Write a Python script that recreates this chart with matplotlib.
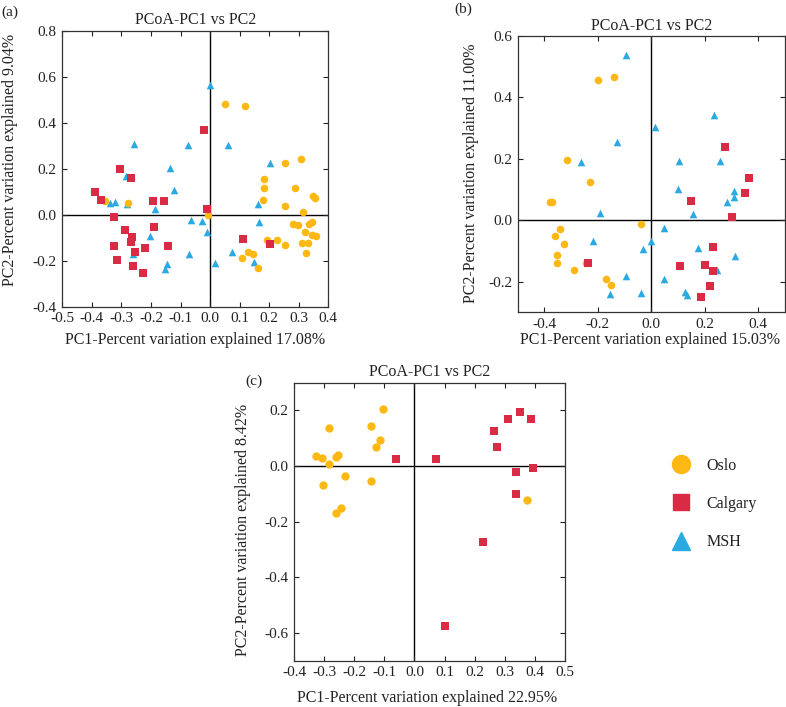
import matplotlib
matplotlib.use("Agg")
import matplotlib.pyplot as plt
from matplotlib.lines import Line2D

plt.rcParams['font.family'] = ['Liberation Serif', 'DejaVu Serif']

# colours
oslo_c = '#FDB813'
calg_c = '#D92B43'
msh_c = '#2BAAE2'

####### panel (a) #######
a_oslo_x = [0.051, 0.119, 0.254, 0.306, 0.183, 0.181, 0.179, 0.287, 0.254, 0.347, 0.356,
            0.315, 0.282, 0.299, 0.334, 0.344, 0.322, 0.345, 0.358, 0.193, 0.226, 0.253,
            0.311, 0.330, 0.325, 0.128, 0.145, 0.109, 0.163, -0.007, -0.279, -0.357]
a_oslo_y = [0.483, 0.474, 0.223, 0.243, 0.154, 0.117, 0.065, 0.116, 0.039, 0.083, 0.074,
            0.010, -0.041, -0.043, -0.041, -0.033, -0.077, -0.087, -0.093, -0.112, -0.110, -0.130,
            -0.125, -0.125, -0.167, -0.164, -0.171, -0.188, -0.230, 0.000, 0.049, 0.059]
a_calg_x = [-0.020, -0.304, -0.266, -0.391, -0.370, -0.193, -0.156, -0.012, -0.324, -0.287, -0.264,
            -0.267, -0.191, -0.324, -0.255, -0.219, -0.143, -0.315, -0.260, -0.226, 0.113, 0.201]
a_calg_y = [0.367, 0.197, 0.161, 0.100, 0.064, 0.058, 0.058, 0.023, -0.009, -0.065, -0.096,
            -0.119, -0.055, -0.135, -0.164, -0.143, -0.136, -0.197, -0.225, -0.255, -0.106, -0.129]
a_msh_x = [0.000, -0.256, -0.074, 0.060, -0.134, -0.284, -0.121, -0.322, -0.340, -0.282, -0.188,
           0.204, 0.163, 0.167, -0.065, -0.026, -0.012, -0.203, -0.327, -0.260, -0.073, 0.075,
           -0.147, -0.154, 0.015, 0.147]
a_msh_y = [0.565, 0.309, 0.301, 0.304, 0.203, 0.170, 0.107, 0.055, 0.049, 0.045, 0.026,
           0.225, 0.046, -0.032, -0.023, -0.029, -0.074, -0.094, -0.130, -0.172, -0.171, -0.164,
           -0.214, -0.236, -0.212, -0.204]

####### panel (b) #######
b_oslo_x = [-0.200, -0.139, -0.314, -0.229, -0.378, -0.370, -0.341, -0.359, -0.328, -0.351,
            -0.351, -0.291, -0.246, -0.171, -0.151, -0.039]
b_oslo_y = [0.458, 0.467, 0.197, 0.125, 0.060, 0.058, -0.029, -0.050, -0.078, -0.112,
            -0.138, -0.161, -0.139, -0.191, -0.211, -0.013]
b_calg_x = [0.276, 0.364, 0.349, 0.149, 0.301, 0.229, -0.236, 0.106, 0.199, 0.231, 0.220, 0.186]
b_calg_y = [0.238, 0.138, 0.090, 0.064, 0.010, -0.088, -0.139, -0.150, -0.146, -0.164, -0.214, -0.249]
b_msh_x = [-0.095, 0.236, 0.015, -0.129, -0.264, 0.103, 0.256, 0.100, 0.311, 0.311, 0.283,
           -0.191, 0.155, 0.049, 0.000, -0.219, -0.032, 0.174, 0.313, 0.246, -0.096, 0.046,
           -0.155, -0.037, 0.125, 0.133]
b_msh_y = [0.539, 0.342, 0.304, 0.254, 0.191, 0.193, 0.192, 0.103, 0.094, 0.077, 0.060,
           0.024, 0.019, -0.025, -0.069, -0.069, -0.095, -0.092, -0.117, -0.162, -0.181, -0.193,
           -0.241, -0.236, -0.234, -0.243]

####### panel (c) #######
c_oslo_x = [-0.104, -0.143, -0.285, -0.113, -0.128, -0.328, -0.308, -0.255, -0.260, -0.282,
            -0.230, -0.144, -0.303, -0.244, -0.260, 0.373]
c_oslo_y = [0.207, 0.144, 0.137, 0.094, 0.067, 0.036, 0.030, 0.040, 0.031, 0.008,
            -0.037, -0.052, -0.068, -0.152, -0.169, -0.123]
c_calg_x = [-0.062, 0.071, 0.352, 0.310, 0.388, 0.265, 0.275, 0.337, 0.393, 0.337, 0.227, 0.103]
c_calg_y = [0.026, 0.026, 0.195, 0.168, 0.169, 0.125, 0.067, -0.021, -0.008, -0.102, -0.273, -0.575]

fig = plt.figure(figsize=(7.86, 7.07), dpi=100)

ax_a = fig.add_axes([0.0793, 0.5662, 0.3384, 0.3904])
ax_b = fig.add_axes([0.6586, 0.5583, 0.3401, 0.3908])
ax_c = fig.add_axes([0.3740, 0.0655, 0.3448, 0.3932])


def style(ax, xlim, ylim, xticks, yticks, xlab, ylab, xlc, ylc):
    ax.axhline(0, color='black', lw=1.0, zorder=1)
    ax.axvline(0, color='black', lw=1.0, zorder=1)
    ax.set_xlim(xlim)
    ax.set_ylim(ylim)
    ax.set_xticks(xticks)
    ax.set_yticks(yticks)
    ax.xaxis.set_major_formatter(matplotlib.ticker.FormatStrFormatter('%.1f'))
    ax.yaxis.set_major_formatter(matplotlib.ticker.FormatStrFormatter('%.1f'))
    ax.tick_params(direction='in', top=True, right=True, length=3.5, width=0.8,
                   labelsize=11, colors='#222222', labelcolor='#222222', pad=4)
    for s in ax.spines.values():
        s.set_linewidth(0.9)
        s.set_color('#333333')
    ax.set_title('PCoA-PC1 vs PC2', fontsize=11.5, pad=4.5, color='#222222')
    ax.set_xlabel(xlab, fontsize=11.5, color='#222222', va='center')
    ax.set_ylabel(ylab, fontsize=11.5, color='#222222', va='center')
    ax.xaxis.set_label_coords(*xlc)
    ax.yaxis.set_label_coords(*ylc)


ms = 30
ax_a.scatter(a_msh_x, a_msh_y, marker='^', s=ms, color=msh_c, lw=0, zorder=3)
ax_a.scatter(a_oslo_x, a_oslo_y, marker='o', s=ms, color=oslo_c, lw=0, zorder=4)
ax_a.scatter(a_calg_x, a_calg_y, marker='s', s=ms, color=calg_c, lw=0, zorder=5)
style(ax_a, (-0.5, 0.4), (-0.4, 0.8), [-0.5, -0.4, -0.3, -0.2, -0.1, 0.0, 0.1, 0.2, 0.3, 0.4],
      [-0.4, -0.2, 0.0, 0.2, 0.4, 0.6, 0.8],
      'PC1-Percent variation explained 17.08%', 'PC2-Percent variation explained 9.04%',
      (0.5, -0.121), (-0.197, 0.53))

ax_b.scatter(b_msh_x, b_msh_y, marker='^', s=ms, color=msh_c, lw=0, zorder=3)
ax_b.scatter(b_oslo_x, b_oslo_y, marker='o', s=ms, color=oslo_c, lw=0, zorder=4)
ax_b.scatter(b_calg_x, b_calg_y, marker='s', s=ms, color=calg_c, lw=0, zorder=5)
style(ax_b, (-0.5, 0.5), (-0.3, 0.6), [-0.4, -0.2, 0.0, 0.2, 0.4],
      [-0.2, 0.0, 0.2, 0.4, 0.6],
      'PC1-Percent variation explained 15.03%', 'PC2-Percent variation explained 11.00%',
      (0.495, -0.100), (-0.175, 0.504))

ax_c.scatter(c_oslo_x, c_oslo_y, marker='o', s=36, color=oslo_c, lw=0, zorder=4)
ax_c.scatter(c_calg_x, c_calg_y, marker='s', s=36, color=calg_c, lw=0, zorder=5)
style(ax_c, (-0.4, 0.5), (-0.7, 0.3), [-0.4, -0.3, -0.2, -0.1, 0.0, 0.1, 0.2, 0.3, 0.4, 0.5],
      [-0.6, -0.4, -0.2, 0.0, 0.2],
      'PC1-Percent variation explained 22.95%', 'PC2-Percent variation explained 8.42%',
      (0.49, -0.134), (-0.188, 0.47))

fig.text(10 / 786, 1 - 12 / 707, '(a)', fontsize=11, ha='center', va='center', color='#222222')
fig.text(463 / 786, 1 - 9 / 707, '(b)', fontsize=11, ha='center', va='center', color='#222222')
fig.text(254 / 786, 1 - 381 / 707, '(c)', fontsize=11, ha='center', va='center', color='#222222')

handles = [Line2D([], [], ls='none', marker='o', ms=13, color=oslo_c),
           Line2D([], [], ls='none', marker='s', ms=11, color=calg_c),
           Line2D([], [], ls='none', marker='^', ms=13, color=msh_c)]
fig.legend(handles, ['Oslo', 'Calgary', 'MSH'], loc='center left',
           bbox_to_anchor=(655 / 786, 1 - 504 / 707), frameon=False, fontsize=11.5,
           labelspacing=1.4, handletextpad=0.8, handlelength=1.5, labelcolor='#222222')

fig.savefig('out.png', dpi=100)
